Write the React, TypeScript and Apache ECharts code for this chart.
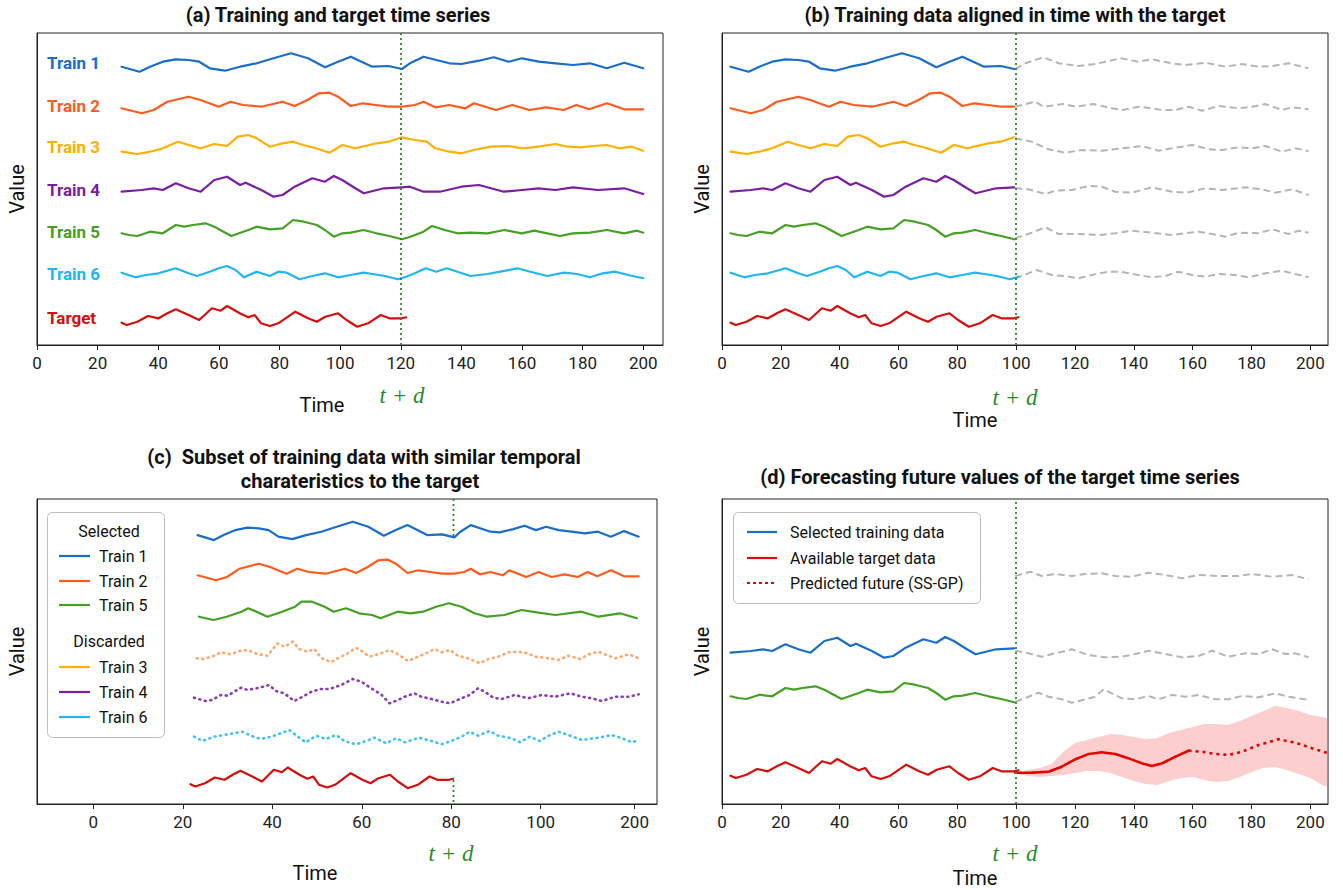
import React, { useEffect, useRef } from "react";
import * as echarts from "echarts";

type P = [number, number];

// ---------- Panel (a): training and target series, [time, value] ----------
const A_T1: P[] = [[27.9,278.3],[33.8,273.3],[37.3,278.3],[41.5,283.3],[45.8,285.7],[50,285],[53.5,283.3],[57,276.7],[62,274.3],[67,278.3],[72.5,281.7],[78,286.7],[83.8,291.7],[89.4,286.7],[95,277.7],[99.3,283.3],[103.5,288.3],[110.6,278.3],[116,279],[120.4,276],[123,281.7],[127.5,288.3],[136,281.7],[140,281],[145.8,284.3],[150.7,287.7],[155.6,283.3],[160,286.7],[165.5,283.3],[171,281.7],[176.8,280],[182.4,281.7],[188,276.7],[193.7,282.3],[200,276.7]];
const A_T2: P[] = [[27.9,236.7],[34.5,231.7],[38.5,235],[43,243.3],[50,248.3],[54,245],[59.9,238.3],[63.8,243.3],[68,240],[74,238.3],[81,243.3],[85,239],[89.2,245],[93,251.7],[96.5,252.3],[99.3,248.3],[103.5,239],[107.5,241.7],[111.7,240],[116,238.3],[120.4,238.3],[124.6,240],[127.5,243.3],[131.4,237.7],[136,240],[141.3,236.7],[144.1,241.7],[151.4,235],[156.8,240],[162.4,235],[168,237.7],[173.7,235],[177.9,240],[182.1,235.7],[188,241.7],[193.7,235.7],[200,235.7]];
const A_T3: P[] = [[27.9,193.3],[33.1,191],[37.3,193.3],[41.5,196.7],[46.5,203.3],[50,200],[54,196.7],[58.5,201],[62.7,199],[66.2,208.3],[69.7,210],[72.5,206.7],[76.8,198.3],[81,201.7],[84.5,203.3],[87.8,200],[92,196.7],[96.5,192.3],[100.7,200],[105,196.7],[108.2,199],[112,201.7],[116,203.3],[120.4,207.7],[124.6,205],[128.6,203.3],[131.4,196.7],[136,193.3],[140,191.7],[144.1,195],[149.7,198.3],[155.6,199],[160,196.7],[165.5,198.3],[171,201],[175.1,198.3],[179.3,197.7],[183.5,199],[188,200],[192,196.7],[196.2,198.3],[200,194.3]];
const A_T4: P[] = [[27.9,153.3],[34.5,155],[38.5,156.7],[41.5,155],[45.8,161.7],[50,156.7],[54,153.3],[58.5,165],[62.7,168.3],[67,160],[68.8,162.3],[74,155],[78,148.3],[81,150],[85,158.3],[90.8,166.7],[95,163.3],[97.9,169],[100.7,165],[105,156.7],[107.8,151.7],[114.5,156.7],[120.4,157.7],[123,158.3],[127.5,153.3],[132.9,153.3],[140,158.3],[145.8,160],[154,153.3],[160,155],[165.5,156.7],[171,155],[176.8,157.7],[185,155],[193.7,156.7],[200,151]];
const A_T5: P[] = [[27.9,111.7],[30.3,110],[33.1,109],[37.3,113.3],[41.5,111.7],[45.8,120],[48.6,118.3],[51.4,120],[55.6,121.7],[58.5,118.3],[64.1,109],[69.7,115],[72.5,118.3],[76.8,115.7],[81,116.7],[84.5,125],[88,123.3],[92.3,120],[95,115],[97.9,108.3],[100.7,111.7],[103.5,112.3],[107.7,115],[112,111.7],[116.2,109],[120.4,105.7],[123.2,108.3],[127.5,113.3],[130.3,119],[134.5,115],[138.7,111.7],[143,112.3],[148.6,111.7],[154.2,115],[159.9,111.7],[164.1,114.3],[168.3,111.7],[172.5,109],[176.8,111.7],[182.4,112.3],[188,115],[193.7,111.7],[197.9,114.3],[200,112.3]];
const A_T6: P[] = [[27.9,72.3],[32.4,67.7],[35.9,70],[40.1,71.7],[45.8,76.7],[50,71.7],[52.8,69],[57,73.3],[59.9,76.7],[62.7,79],[65.5,75],[68.3,67.7],[72.5,73.3],[76.8,69],[79.6,73.3],[82.4,72.3],[86.6,65.7],[90.8,69],[95,71.7],[99.3,67.7],[103.5,70],[107.7,72.3],[110.6,71],[114.8,69],[119,65.7],[121.8,68.3],[124.6,71.7],[128.2,76.7],[131.7,73.3],[135.2,76.7],[138.7,73.3],[143,69],[148.6,71],[152.8,73.3],[158.5,76.7],[162.7,73.3],[168.3,69],[173.9,72.3],[178.2,71],[182.4,67.7],[186.6,71.7],[190.8,73.3],[195,70],[200,66.7]];
const A_TG: P[] = [[27.9,22.3],[29.6,20],[33.1,23.3],[36.6,29],[40.1,26.7],[43,31.7],[45.8,35.7],[50,30],[53.5,25],[57.7,36.7],[60.6,34.3],[62.7,39],[66.9,31.7],[69.7,27.7],[71.8,30],[73.9,21.7],[76.8,19],[79.6,21.7],[85.2,33.3],[89.4,26.7],[92.3,23.3],[95.1,28.3],[99.3,31.7],[102.1,25],[105.6,18.3],[109.2,21.7],[113.4,30],[116.2,26.7],[120.4,26.7],[121.8,27.7]];

// ---------- Panel (b): future part of training series (grey) ----------
const B_G1: P[] = [[99.7,275.7],[103.1,281.7],[109.3,287.7],[114.4,281.7],[121.2,279],[126.9,281],[130.3,283.3],[135.4,286.7],[141.6,283.3],[146.1,285.7],[152.9,281.7],[157.5,280],[164.3,282.3],[171.1,278.3],[176.8,281],[182.4,278.3],[187,279],[192.6,281.7],[199.4,276.7]];
const B_G2: P[] = [[99.7,238.3],[106.5,243.3],[109.3,238.3],[116.1,241],[120.1,238.3],[126.3,241],[132.5,236.7],[136,235],[141.6,238.3],[146.1,236.7],[149.6,235],[154.1,235],[158.6,238.3],[163.2,234.3],[168.8,239],[175.6,236.7],[180.2,238.3],[184.7,241],[190.4,235],[193.8,237.7],[199.4,235.7]];
const B_G3: P[] = [[99.7,206.7],[105.3,203.3],[111,195.7],[116.7,192.3],[122.3,195],[129.1,194.3],[135.9,196.7],[142.7,199],[148.4,194.3],[152.9,196.7],[159.8,200],[165.4,195.7],[170,195],[175.6,197.7],[180.2,196.7],[184.7,199],[190.4,193.3],[194.9,196.7],[199.4,194]];
const B_G4: P[] = [[99.7,156.7],[104.2,155.7],[109.9,151],[113.3,154.3],[118.9,155],[124.6,159],[129.1,158.3],[133.7,153.3],[139.3,152.3],[146.1,157.7],[152.9,153.3],[158,152.3],[164.3,156.7],[170,155],[177.9,157.7],[183.6,155.7],[188.1,152.3],[193.8,155.7],[199.4,150]];
const B_G5: P[] = [[99.7,106.7],[105.3,112.3],[109.9,117.7],[114.4,111],[121.2,111],[128,110],[133.7,111.7],[139.3,114.3],[146.1,112.3],[152.9,110],[157.5,111.7],[162,113.3],[166.6,111],[171.1,108.3],[175.6,112.3],[182.4,111.7],[187,115.7],[192.6,111],[196,114.3],[199.4,112.3]];
const B_G6: P[] = [[99.7,66.7],[107,75],[112.1,70],[116.7,69],[121.2,66.7],[125.7,70],[131.4,73.3],[135.4,73.3],[141.6,70],[146.1,67.7],[150.7,69],[155.2,73.3],[159.8,70],[164.3,68.3],[168.8,71],[174.5,70],[179,67.7],[184.7,71.7],[190.4,74.3],[194.9,71],[199.4,67.7]];

// ---------- Panel (c): series read directly (axis position, value) ----------
const C_T5: P[] = [[23.6,187.3],[26.9,184],[29.8,187.3],[33.1,192.3],[34.6,195.7],[36.5,192.3],[38.9,187.3],[42.2,192.3],[45.1,197.3],[46.5,202.3],[48.9,202.3],[51.7,197.3],[53.7,192.3],[56.5,195.7],[59.4,190.7],[62.3,189],[64.2,185.7],[68,192.3],[70.9,190.7],[73.7,192.3],[76.6,197.3],[79.5,200.7],[82.3,197.3],[85.2,190.7],[88,187.3],[91.9,189],[95.7,194],[99.5,191.3],[103.3,189],[109.1,192.3],[112.9,187.3],[117.7,190.7],[121.5,185.7]];
const C_T3: P[] = [[23.1,145.7],[24.7,145],[27,148.3],[28.5,151.7],[30.7,149.7],[32.6,153],[34.5,154],[36.7,149.7],[38.9,148.3],[41.2,160.7],[42.7,157.3],[44.6,162.3],[46,155],[47.9,152.3],[49.4,155],[50.9,146.3],[53.1,141.7],[54.6,145.7],[56.9,150.7],[58.7,156.3],[60.2,152.3],[61.7,147.3],[64.3,150.7],[66.2,154],[68.1,149.7],[70.3,143],[72.6,147.3],[74.8,151.7],[76.3,155],[77.8,151.7],[79.7,154],[81.5,148.3],[83.8,145.7],[86.4,140.7],[88.3,145],[90.5,147.3],[92.8,151.7],[95,152.3],[97.2,150.7],[98.7,147.3],[101,146.3],[104,144],[106.2,148.3],[108.8,145],[110.7,149.7],[112.9,152.3],[114.8,149],[116.7,145.7],[119.7,149.7],[121.9,145.7]];
const C_T4: P[] = [[22.5,106.3],[25.1,103],[26.6,104],[28.5,109],[30,108.3],[33,116.3],[34.5,114],[37.1,116.3],[39.3,119],[40.8,113],[42.7,110.7],[44.9,103],[46.8,107.3],[48.7,112.3],[50.9,115],[52.8,115],[55.4,119],[58,125],[59.9,122.3],[62.1,115.7],[64.3,109.7],[66.2,100.7],[68.1,104],[69.6,107.3],[71.8,110.7],[73.3,107.3],[75.6,105],[77.8,102.3],[79.7,100.7],[82.3,105.7],[84.1,109],[86,115.7],[87.5,112.3],[89.4,106.3],[91.3,105],[94.2,109],[97.2,105.7],[100.2,109],[103.2,107.3],[106.6,110.7],[109.2,107.3],[111.4,105.7],[113.7,103],[116.7,107.3],[119.7,107.3],[121.9,109.7]];
const C_T6: P[] = [[22.5,67.3],[24.4,63],[27,67.3],[30,69.7],[33.3,72.3],[35.2,68.3],[37.4,65],[39.7,67.3],[41.9,70.7],[43.8,74],[45.7,67.3],[47.5,61.7],[49.8,68.3],[52,65],[54.3,69],[56.1,63],[58.7,59.7],[61,63],[62.8,66.3],[65.5,60.7],[67.7,65.7],[69.6,61.7],[72.9,66.3],[75.6,63],[77.8,59.7],[80,63],[82.3,67.3],[84.1,72.3],[86,68.3],[88.6,73],[90.5,68.3],[93.5,65.7],[95.4,61.7],[97.6,67.3],[99.8,63],[102.1,69],[104,72.3],[106.2,69],[109.2,64],[112.9,66.3],[115.9,69],[118.2,65.7],[120.4,61.7],[121.9,64]];

// ---------- Panel (d): grey futures, prediction and band ----------
const D_G1: P[] = [[99.7,228],[104.8,232.3],[108.7,228],[113.3,230],[118.9,228],[123.5,230],[129.1,230.7],[133.7,228],[139.3,227.3],[145,231.3],[150.7,229],[156.4,225.7],[162,229],[168.8,228],[175.6,228],[180.2,230],[187,227.3],[193.8,229],[199.4,224.7]];
const D_G2: P[] = [[99.7,153.3],[104.2,150.7],[108.7,147.3],[113.3,150.7],[118.9,154.7],[124.6,149],[130.3,146.7],[135.9,147.3],[140.5,150],[145,153.3],[150.7,150],[156.4,146.7],[162,148],[166.6,153.3],[172.2,147.3],[177.9,150.7],[182.4,150],[187,154.7],[191.5,150],[194.9,150.7],[199.4,146.7]];
const D_G3: P[] = [[99.7,102.3],[104.2,107.3],[107.6,111.3],[111,107.3],[115.5,104.7],[118.9,101.3],[123.5,104.7],[126.9,107.3],[129.7,114.7],[132.5,110.7],[135.9,105.7],[140.5,104.7],[145,108],[148.4,104.7],[152.9,109],[157.5,107.3],[162,109],[167.7,104.7],[172.2,104.7],[176.8,108],[182.4,106.7],[188.1,110.7],[192.6,107.3],[199.4,104]];
const D_PRED_A: P[] = [[99.7,31.3],[105.3,31.3],[111,32.3],[115.5,37.3],[120.1,44.7],[124.6,50],[129.1,51.7],[133.7,50],[138.2,45.7],[142.7,40.7],[146.1,38],[149.6,40.7],[154.1,47.3],[158.6,53.3]];
const D_PRED_B: P[] = [[158.6,53.3],[163.2,52.3],[167.7,50],[172.2,49],[176.8,52.3],[182.4,59],[189.2,64.7],[194.9,61.3],[200.6,55.7],[206.2,50.7]];
const BAND_T = [99.7,104,108,112,116,120,124,128,132,136,140,144,148,152,156,160,164,168,172,176,180,184,188,192,196,200,204,207];
const BAND_HI = [31.5,34,36,40,52,61,64,67,70,69,67,65,66,71,74,77,80,80,79,83,88,93,98,96,93,89,87,85];
const BAND_LO = [30.5,28,27,28,29,31,33,33,31,27,23,20,19,23,26,27,24,22,23,27,32,36,37,34,30,26,19,16];

// ---------- axes / labels ----------
const TICKS_AB = [0, 20, 40, 60, 80, 100, 120, 140, 160, 180, 200];
const TICKS_C = [0, 20, 40, 60, 80, 100, 121];
const TICK_LABELS_C = ["0", "20", "40", "60", "80", "100", "200"];
const A_NAMES = ["Train 1", "Train 2", "Train 3", "Train 4", "Train 5", "Train 6", "Target"];
const C_SELECTED = ["Train 1", "Train 2", "Train 5"];
const C_DISCARDED = ["Train 3", "Train 4", "Train 6"];
const D_LEGEND = ["Selected training data", "Available target data", "Predicted future (SS-GP)"];

const COL = {
  t1: "#1b6ec8", t2: "#ff5b1f", t3: "#ffb000", t4: "#7b1fa2", t5: "#45a024", t6: "#22b5f3", tg: "#d40d0d",
  gray: "#b5b5b5", c3: "#ffa86e", c4: "#8d3bb0", c6: "#45c1f5", green: "#2a8a2a", band: "rgba(250,120,120,0.36)",
  pred: "#e60000",
};
const FONT = "Roboto, 'Noto Sans', sans-serif";

const fix = (src: P[]) => src.map(([t, v]) => [t, v]);
const warp = (src: P[], a0: number, a1: number, b0: number, b1: number, dv: number, lo = -Infinity, hi = Infinity) =>
  src
    .filter(([t]) => t >= lo && t <= hi)
    .map(([t, v]) => [+(b0 + ((t - a0) * (b1 - b0)) / (a1 - a0)).toFixed(2), +(v + dv).toFixed(2)]);
const toB = (src: P[], dv = 0) => warp(src, 28, 122, 3, 101, dv, -Infinity, 122);
const toC = (src: P[], dv: number) => [
  ...warp(src, 27.9, 120.4, 23.3, 80.7, dv, -Infinity, 120.4),
  ...warp(src, 120.4, 200, 80.7, 121.9, dv, 120.41, Infinity),
];

function line(gi: number, data: any[], color: string, extra: any = {}) {
  return {
    type: "line", xAxisIndex: gi, yAxisIndex: gi, data, symbol: "none", showSymbol: false,
    connectNulls: false, silent: true, z: extra.z ?? 3,
    lineStyle: { color, width: extra.width ?? 2.2, type: extra.type ?? "solid", cap: extra.cap ?? "round", join: "round" },
    itemStyle: { color },
    ...(extra.markLine ? { markLine: extra.markLine } : {}),
  };
}
const vline = (x: number) => ({
  symbol: "none", silent: true, label: { show: false },
  lineStyle: { color: COL.green, type: [2, 3], width: 1.8 },
  data: [{ xAxis: x }],
});

function xAxis(gi: number, min: number, max: number, ticks: number[], labels?: string[]) {
  return {
    type: "value", gridIndex: gi, min, max,
    axisLine: { show: true, onZero: false, lineStyle: { color: "#222", width: 1 } },
    axisTick: { show: true, customValues: ticks, length: 5, lineStyle: { color: "#222" } },
    axisLabel: {
      show: true, customValues: ticks, fontSize: 17, color: "#222", fontFamily: FONT, margin: 9,
      formatter: (v: number) => (labels ? labels[ticks.indexOf(v)] ?? "" : String(v)),
    },
    splitLine: { show: false },
  };
}
function yAxis(gi: number, max: number) {
  return {
    type: "value", gridIndex: gi, min: 0, max,
    axisLine: { show: true, onZero: false, lineStyle: { color: "#222" } },
    axisTick: { show: false }, axisLabel: { show: false }, splitLine: { show: false },
    name: "Value", nameLocation: "middle", nameRotate: 90, nameGap: 10,
    nameTextStyle: { fontSize: 20, color: "#111", fontFamily: FONT },
  };
}

const txt = (x: number, y: number, text: string, style: any = {}, z = 20) => ({
  type: "text", x, y, silent: true, z,
  style: { text, fontSize: 16, fontFamily: FONT, fill: "#111", align: "center", verticalAlign: "middle", ...style },
});
const gline = (x1: number, y1: number, x2: number, y2: number, stroke: string, dash?: number[]) => ({
  type: "line", silent: true, z: 20, shape: { x1, y1, x2, y2 },
  style: { stroke, lineWidth: 2.2, lineDash: dash ?? null },
});

function buildOption() {
  const A_COLORS = [COL.t1, COL.t2, COL.t3, COL.t4, COL.t5, COL.t6, COL.tg];
  const A_SERIES = [A_T1, A_T2, A_T3, A_T4, A_T5, A_T6, A_TG];
  const B_GRAYS = [B_G1, B_G2, B_G3, B_G4, B_G5, B_G6];
  const series: any[] = [];
  const dotted = { type: [1, 4.6], width: 2.6, cap: "round" };

  // (a)
  A_SERIES.forEach((s, i) =>
    series.push(line(0, fix(s), A_COLORS[i], i === 0 ? { markLine: vline(120) } : {}))
  );
  // (b)
  B_GRAYS.forEach((s) => series.push(line(1, fix(s), COL.gray, { type: [7, 4], width: 2, z: 2, cap: "butt" })));
  A_SERIES.forEach((s, i) =>
    series.push(line(1, toB(s), A_COLORS[i], i === 0 ? { markLine: vline(100) } : {}))
  );
  // (c)
  series.push(line(2, toC(A_T1, -9.4), COL.t1));
  series.push(line(2, toC(A_T2, -8), COL.t2));
  series.push(line(2, fix(C_T5), COL.t5));
  series.push(line(2, fix(C_T3), COL.c3, dotted));
  series.push(line(2, fix(C_T4), COL.c4, dotted));
  series.push(line(2, fix(C_T6), COL.c6, dotted));
  series.push(line(2, warp(A_TG, 27.9, 121.8, 21.7, 80.4, -2.5), COL.tg));
  series.push(line(2, [[80.5, 305], [80.5, 267]], COL.green, { type: [2, 3], width: 1.8, cap: "butt" }));
  series.push(line(2, [[80.5, 24], [80.5, 0]], COL.green, { type: [2, 3], width: 1.8, cap: "butt" }));
  // (d)
  series.push({
    type: "custom", xAxisIndex: 3, yAxisIndex: 3, silent: true, clip: true, z: 1,
    data: [[BAND_T[0], BAND_LO[0]]], encode: { x: 0, y: 1 },
    renderItem: (_p: any, api: any) => {
      const up = BAND_T.map((t, i) => api.coord([t, BAND_HI[i]]));
      const dn = BAND_T.map((t, i) => api.coord([t, BAND_LO[i]])).reverse();
      return { type: "polygon", shape: { points: [...up, ...dn] }, style: { fill: COL.band } };
    },
  });
  [D_G1, D_G2, D_G3].forEach((s) => series.push(line(3, fix(s), COL.gray, { type: [7, 4], width: 2, z: 2, cap: "butt" })));
  series.push(line(3, toB(A_T4, -2), COL.t1, { markLine: vline(100) }));
  series.push(line(3, toB(A_T5, -4), COL.t5));
  series.push(line(3, toB(A_TG, 6), COL.tg));
  series.push(line(3, fix(D_PRED_A), COL.pred, { type: [7, 1.5], width: 2.6, z: 4 }));
  series.push(line(3, fix(D_PRED_B), COL.pred, { type: [3, 4], width: 2.6, z: 4, cap: "butt" }));

  const A_LABEL_Y = [63, 106, 147, 190, 232, 274, 318];
  const C_SEL_COLORS = [COL.t1, COL.t2, COL.t5];
  const C_DIS_COLORS = [COL.t3, COL.t4, COL.t6];
  const C_SEL_Y = [556, 581, 605];
  const C_DIS_Y = [667, 692, 717];
  const D_LEG_Y = [532, 558, 583];
  const bold = { fontSize: 20, fontWeight: "bold" };
  const graphic: any[] = [
    txt(338, 15, "(a) Training and target time series", bold),
    txt(1015, 15, "(b) Training data aligned in time with the target", bold),
    txt(364, 457, "(c)  Subset of training data with similar temporal", bold),
    txt(360, 481, "charateristics to the target", bold),
    txt(1000, 477, "(d) Forecasting future values of the target time series", bold),
    txt(322, 405, "Time", { fontSize: 20 }),
    txt(975, 420, "Time", { fontSize: 20 }),
    txt(315, 873, "Time", { fontSize: 20 }),
    txt(975, 878, "Time", { fontSize: 20 }),
    ...[[402, 395], [1015, 397], [451, 853], [1015, 853]].map(([x, y]) =>
      txt(x, y, "t + d", { fontSize: 23, fontStyle: "italic", fontFamily: "'Liberation Serif', 'DejaVu Serif', serif", fill: COL.green })
    ),
    ...A_NAMES.map((n, i) =>
      txt(47, A_LABEL_Y[i], n, { align: "left", fontWeight: "bold", fontSize: 17, fill: A_COLORS[i] })
    ),
    // legend (c)
    { type: "rect", silent: true, z: 15, shape: { x: 47.5, y: 512.5, width: 117, height: 225, r: 5 }, style: { fill: "#fff", stroke: "#bdbdbd", lineWidth: 1 } },
    txt(109, 531, "Selected", { fontSize: 16 }),
    txt(109, 641, "Discarded", { fontSize: 16 }),
    ...C_SELECTED.flatMap((n, i) => [
      gline(59, C_SEL_Y[i], 90, C_SEL_Y[i], C_SEL_COLORS[i]),
      txt(99, C_SEL_Y[i], n, { fontSize: 16, align: "left" }),
    ]),
    ...C_DISCARDED.flatMap((n, i) => [
      gline(59, C_DIS_Y[i], 90, C_DIS_Y[i], C_DIS_COLORS[i]),
      txt(99, C_DIS_Y[i], n, { fontSize: 16, align: "left" }),
    ]),
    // legend (d)
    { type: "rect", silent: true, z: 15, shape: { x: 733.5, y: 512.5, width: 247, height: 91, r: 5 }, style: { fill: "#fff", stroke: "#bdbdbd", lineWidth: 1 } },
    ...D_LEGEND.flatMap((n, i) => [
      gline(747, D_LEG_Y[i], 777, D_LEG_Y[i], [COL.t1, COL.tg, COL.pred][i], i === 2 ? [3, 3] : undefined),
      txt(790, D_LEG_Y[i], n, { fontSize: 16, align: "left" }),
    ]),
  ];

  return {
    animation: false,
    backgroundColor: "#fff",
    textStyle: { fontFamily: FONT },
    grid: [
      { left: 37, top: 33, width: 626, height: 312, show: true, borderColor: "#222", borderWidth: 1 },
      { left: 722, top: 33, width: 606, height: 312, show: true, borderColor: "#222", borderWidth: 1 },
      { left: 37, top: 499, width: 620, height: 305, show: true, borderColor: "#222", borderWidth: 1 },
      { left: 722, top: 499, width: 606, height: 305, show: true, borderColor: "#222", borderWidth: 1 },
    ],
    xAxis: [
      xAxis(0, 0, 206.5, TICKS_AB),
      xAxis(1, 0, 206, TICKS_AB),
      xAxis(2, -12.6, 126, TICKS_C, TICK_LABELS_C),
      xAxis(3, 0, 206, TICKS_AB),
    ],
    yAxis: [yAxis(0, 312), yAxis(1, 312), yAxis(2, 305), yAxis(3, 305)],
    series,
    graphic,
  };
}

export default function App() {
  const ref = useRef<HTMLDivElement>(null);
  useEffect(() => {
    document.body.style.margin = "0";
    const chart = echarts.init(ref.current!, null, { renderer: "svg" });
    chart.setOption(buildOption() as any);
    return () => chart.dispose();
  }, []);
  return <div ref={ref} style={{ width: 1343, height: 890, background: "#fff" }} />;
}
